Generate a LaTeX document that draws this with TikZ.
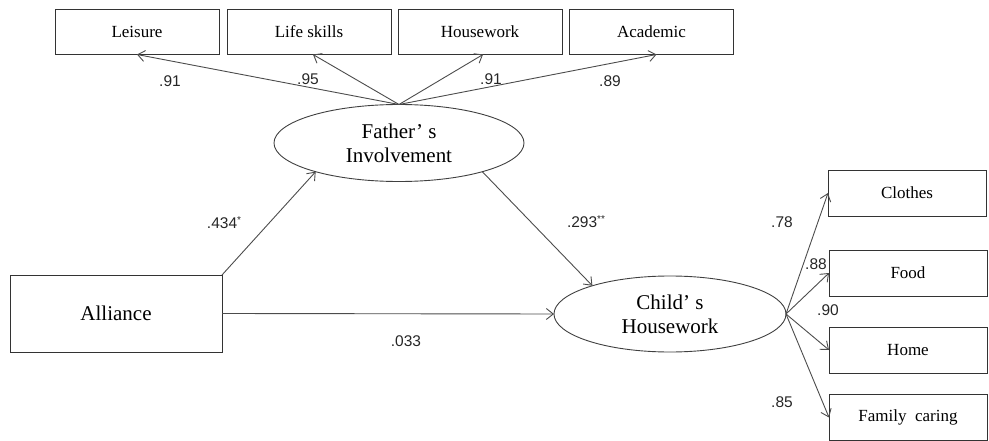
\documentclass[tikz,border=0pt]{standalone}
\usepackage{fontspec}
\setmainfont{Liberation Serif}
\newfontfamily\numfont{Liberation Sans}
\usetikzlibrary{arrows.meta,shapes.geometric}
\begin{document}
\begin{tikzpicture}[x=1pt,y=-1pt,
  every node/.style={inner sep=0pt,outer sep=0pt},
  ind/.style={draw=black!80,line width=0.9pt,rectangle,minimum width=164pt,minimum height=45pt,font=\fontsize{17}{18}\selectfont},
  rbox/.style={draw=black!80,line width=0.9pt,rectangle,minimum width=158pt,minimum height=46pt,font=\fontsize{17}{18}\selectfont},
  latent/.style={draw=black!75,line width=0.9pt,ellipse,minimum width=250pt,minimum height=77pt,align=center,font=\fontsize{21}{24}\selectfont},
  lab/.style={font=\numfont\fontsize{15.5}{17}\selectfont,text=black!85},
  star/.style={font=\numfont\fontsize{10}{11}\selectfont},
  arr/.style={draw=black!70,line width=0.9pt,-{Straight Barb[length=7pt,width=11pt]}}]
\useasboundingbox (0,0) rectangle (989,441);
% indicator boxes on top
\node[ind] (lei) at (137,32) {Leisure};
\node[ind] (life) at (309,32) {Life skills};
\node[ind] (hw) at (480,32) {Housework};
\node[ind] (aca) at (651.5,32) {Academic};
% latent variables
\node[latent] (fat) at (399,143) {Father’ s\\Involvement};
\node[latent,minimum width=232pt,minimum height=76pt] (chi) at (670,314) {Child’ s\\Housework};
% Alliance
\node[draw=black!80,line width=0.9pt,rectangle,minimum width=212pt,minimum height=77pt,font=\fontsize{21}{24}\selectfont] (all) at (116,313.5) {Alliance};
% right boxes
\node[rbox] (clo) at (907,193) {Clothes};
\node[rbox] (food) at (908,273) {Food};
\node[rbox] (home) at (908,350) {Home};
\node[rbox] (fam) at (908,417.5) {Family\ \ caring};
% connectors from Father's Involvement
\coordinate (ftop) at (fat.north);
\draw[arr] (ftop) -- (lei.south);
\draw[arr] (ftop) -- ([xshift=4pt]life.south);
\draw[arr] (ftop) -- ([xshift=3pt]hw.south);
\draw[arr] (ftop) -- ([xshift=5pt]aca.south);
% structural paths
\draw[arr] (all.north east) -- (fat.-161);
\draw[arr] (fat.-19) -- (chi.160);
\draw[arr] (all.east) -- (chi.west);
% child's housework to indicators
\coordinate (ceast) at (chi.east);
\draw[arr] (ceast) -- (clo.west);
\draw[arr] (ceast) -- (food.west);
\draw[arr] (ceast) -- (home.west);
\draw[arr] (ceast) -- (fam.west);
% labels
\node[lab] (l1) at (170,81) {.91};
\node[lab] (l2) at (308,79) {.95};
\node[lab] (l3) at (491,79) {.91};
\node[lab] (l4) at (610,81) {.89};
\node[lab] (l5) at (224,223) {.434\raisebox{0.6ex}{\fontsize{10}{11}\selectfont *}};
\node[lab] (l6) at (586,222) {.293\raisebox{0.6ex}{\fontsize{10}{11}\selectfont **}};
\node[lab] (l7) at (406,341) {.033};
\node[lab] (l8) at (782,222) {.78};
\node[lab] (l9) at (816,264) {.88};
\node[lab] (l10) at (828,310) {.90};
\node[lab] (l11) at (782,402) {.85};
\end{tikzpicture}
\end{document}
